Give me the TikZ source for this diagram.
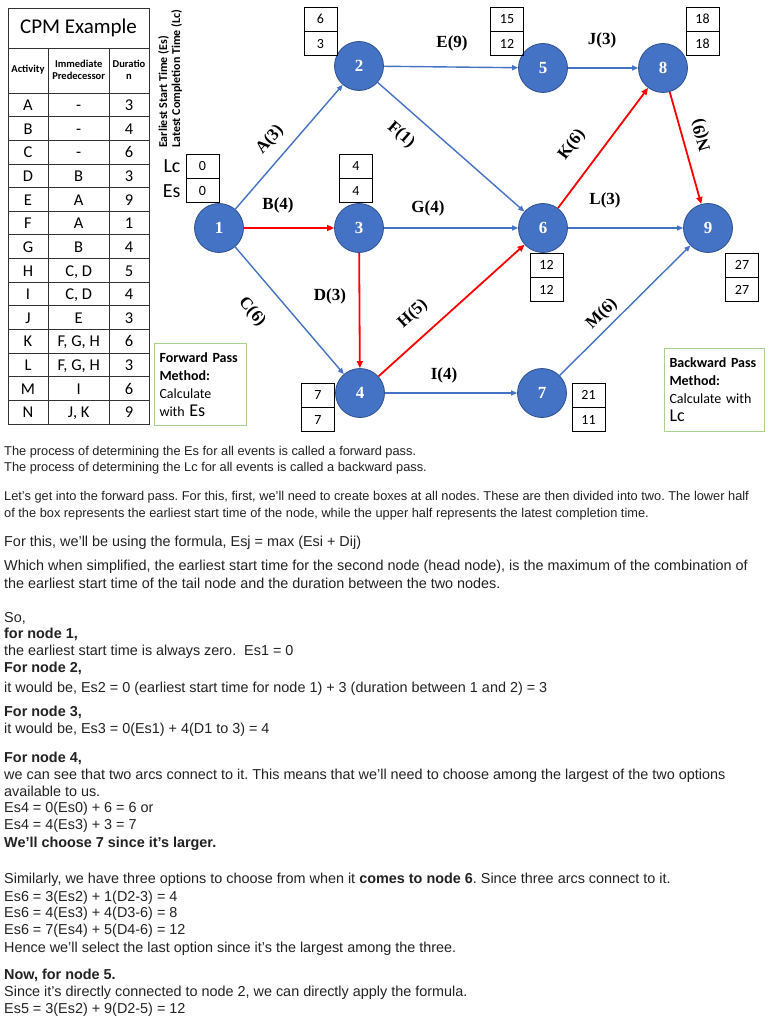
\documentclass[tikz,border=0pt]{standalone}
\usepackage{fontspec}
\setmainfont{Liberation Sans}
\newfontfamily\calibfont{Carlito}
\newfontfamily\timesfont{Liberation Serif}
\usepackage{xcolor}
\usepackage{tikz}
\usetikzlibrary{arrows.meta, positioning}

\definecolor{evblue}{HTML}{4472C4}
\definecolor{evline}{HTML}{2F528F}
\definecolor{critred}{HTML}{FF0000}
\definecolor{boxgreen}{HTML}{A9D18E}
\definecolor{bodytext}{HTML}{222222}
\frenchspacing

\begin{document}
\begin{tikzpicture}[
    x=1pt, y=-1pt,
    event/.style={circle, fill=evblue, draw=evline, line width=0.8pt, minimum size=49pt, inner sep=0pt, text=white, font=\timesfont\bfseries\fontsize{17}{17}\selectfont},
    timebox/.style={rectangle, draw=black, line width=0.8pt, minimum width=33pt, minimum height=24pt, inner sep=0pt, font=\calibfont\fontsize{14}{14}\selectfont},
    arc/.style={-{Triangle[length=6pt, width=5pt]}, draw=evblue, line width=1.4pt},
    crit/.style={-{Triangle[length=7pt, width=6pt]}, draw=critred, line width=1.8pt},
    lbl/.style={font=\timesfont\bfseries\fontsize{17}{17}\selectfont, inner sep=0pt},
    note/.style={rectangle, draw=boxgreen, line width=1pt, anchor=north west, align=left, inner sep=5pt, font=\calibfont\fontsize{14}{18}\selectfont},
    cell/.style={anchor=base, font=\calibfont\fontsize{16.5}{16.5}\selectfont, inner sep=0pt},
    head/.style={font=\calibfont\bfseries\fontsize{10.5}{12.5}\selectfont, align=center, inner sep=0pt},
    txt/.style={anchor=base west, inner sep=0pt, text=bodytext, font=\fontsize{14.4}{17}\selectfont},
    small/.style={anchor=base west, inner sep=0pt, text=bodytext, font=\fontsize{12.8}{14}\selectfont}
]
\path[use as bounding box, fill=white] (0,0) rectangle (768,1024);

% ---- Activity table ----
\draw[line width=0.8pt, black!80] (8,8) rectangle (149,424);
\draw[line width=0.8pt, black!80] (8,48) -- (149,48);
\draw[line width=0.8pt, black!80] (8,93) -- (149,93);
\foreach \i in {1,...,13}
    \draw[line width=0.8pt, black!80] (8,{93+\i*23.64}) -- (149,{93+\i*23.64});
\draw[line width=0.8pt, black!80] (48.5,48) -- (48.5,424);
\draw[line width=0.8pt, black!80] (109,48) -- (109,424);

\node[font=\calibfont\fontsize{21}{21}\selectfont] (title) at (78.5,28) {CPM Example};
\node[head] (hact) at (28,70) {Activity};
\node[head] (hpre) at (78.7,70) {Immediate\\Predecessor};
\node[head] (hdur) at (129,70) {Duratio\\n};

\foreach \act/\pre/\dur [count=\i] in {A/-/3, B/-/4, C/-/6, D/B/3, E/A/9, F/A/1, G/B/4, H/{C, D}/5, I/{C, D}/4, J/E/3, K/{F, G, H}/6, L/{F, G, H}/3, M/I/6, N/{J, K}/9} {
    \node[cell] (act\i) at (28,{86.9+\i*23.64}) {\act};
    \node[cell] (pre\i) at (78.7,{86.9+\i*23.64}) {\pre};
    \node[cell] (dur\i) at (129,{86.9+\i*23.64}) {\dur};
}

% ---- Axis legend ----
\node[rotate=90, anchor=north west, align=left, inner sep=0pt, font=\calibfont\bfseries\fontsize{12}{13}\selectfont] (legend) at (158,148) {Earliest Start Time (Es)\\Latest Completion Time (Lc)};

% ---- Events ----
\node[event] (n1) at (219,228) {1};
\node[event] (n2) at (359,66) {2};
\node[event] (n3) at (359,228) {3};
\node[event] (n4) at (360,393) {4};
\node[event] (n5) at (543,68) {5};
\node[event] (n6) at (543,228) {6};
\node[event] (n7) at (542,393) {7};
\node[event] (n8) at (663,68) {8};
\node[event] (n9) at (708,228) {9};

% ---- Time boxes (Lc on top, Es below) ----
\node[timebox] (lc1) at (202.5,166) {0};
\node[timebox, below=0pt of lc1] (es1) {0};
\node[timebox] (lc2) at (320.5,19) {6};
\node[timebox, below=0pt of lc2] (es2) {3};
\node[timebox] (lc3) at (356,166) {4};
\node[timebox, below=0pt of lc3] (es3) {4};
\node[timebox] (lc4) at (318,395) {7};
\node[timebox, below=0pt of lc4] (es4) {7};
\node[timebox] (lc5) at (507,19) {15};
\node[timebox, below=0pt of lc5] (es5) {12};
\node[timebox] (lc6) at (546.5,265) {12};
\node[timebox, below=0pt of lc6] (es6) {12};
\node[timebox] (lc7) at (588.5,395) {21};
\node[timebox, below=0pt of lc7] (es7) {11};
\node[timebox] (lc8) at (702.5,19) {18};
\node[timebox, below=0pt of lc8] (es8) {18};
\node[timebox] (lc9) at (742,265) {27};
\node[timebox, below=0pt of lc9] (es9) {27};

\node[font=\calibfont\fontsize{20}{20}\selectfont, inner sep=0pt, left=5pt of lc1] (lclbl) {Lc};
\node[font=\calibfont\fontsize{20}{20}\selectfont, inner sep=0pt, left=5pt of es1] (eslbl) {Es};

% ---- Activities ----
\draw[arc] (n1) -- (n2);
\draw[crit] (n1) -- (n3);
\draw[arc] (n1) -- (n4);
\draw[crit] (n3) -- (n4);
\draw[arc] (n2) -- (n5);
\draw[arc] (n2) -- (n6);
\draw[arc] (n3) -- (n6);
\draw[crit] (n4) -- (n6);
\draw[arc] (n4) -- (n7);
\draw[arc] (n5) -- (n8);
\draw[crit] (n6) -- (n8);
\draw[arc] (n6) -- (n9);
\draw[arc] (n7) -- (n9);
\draw[crit] (n8) -- (n9);

\node[lbl, rotate=49] (la) at (270,140) {A(3)};
\node[lbl] (lb) at (278,205) {B(4)};
\node[lbl, rotate=-49] (lcc) at (252,312) {C(6)};
\node[lbl] (ld) at (330,296) {D(3)};
\node[lbl] (le) at (452,43) {E(9)};
\node[lbl, rotate=-41] (lf) at (401,135) {F(1)};
\node[lbl] (lg) at (428,208) {G(4)};
\node[lbl, rotate=42] (lh) at (413,314) {H(5)};
\node[lbl] (li) at (444,375) {I(4)};
\node[lbl] (lj) at (602,40) {J(3)};
\node[lbl, rotate=53] (lk) at (572,145) {K(6)};
\node[lbl] (ll) at (605,200) {L(3)};
\node[lbl, rotate=45] (lm) at (602,314) {M(6)};
\node[lbl, rotate=106] (ln) at (702,135) {N(9)};

% ---- Method notes ----
\node[note, minimum width=92pt, minimum height=82pt, text width=82pt] (fwd) at (154,343) {\textbf{Forward Pass}\\\textbf{Method:}\\Calculate\\with {\fontsize{18}{18}\selectfont Es}};
\node[note, minimum width=100pt, minimum height=83pt, text width=90pt] (bwd) at (664,348) {\textbf{Backward Pass}\\\textbf{Method:}\\Calculate with\\{\fontsize{18}{18}\selectfont Lc}};

% ---- Explanation text ----
\node[small] (t1) at (4,455) {The process of determining the Es for all events is called a forward pass.};
\node[small] (t2) at (4,471) {The process of determining the Lc for all events is called a backward pass.};
\node[small] (t3) at (4,500) {Let’s get into the forward pass. For this, first, we’ll need to create boxes at all nodes. These are then divided into two. The lower half};
\node[small] (t4) at (4,517) {of the box represents the earliest start time of the node, while the upper half represents the latest completion time.};
\node[txt] (t5) at (4,546) {For this, we’ll be using the formula, Esj = max (Esi + Dij)};
\node[txt] (t6) at (4,570) {Which when simplified, the earliest start time for the second node (head node), is the maximum of the combination of};
\node[txt] (t7) at (4,588) {the earliest start time of the tail node and the duration between the two nodes.};
\node[txt] (t8) at (4,622) {So,};
\node[txt, font=\bfseries\fontsize{14.4}{17}\selectfont] (t9) at (4,638) {for node 1,};
\node[txt] (t10) at (4,655) {the earliest start time is always zero.\ \ Es1 = 0};
\node[txt, font=\bfseries\fontsize{14.4}{17}\selectfont] (t11) at (4,672) {For node 2,};
\node[txt] (t12) at (4,692) {it would be, Es2 = 0 (earliest start time for node 1) + 3 (duration between 1 and 2) = 3};
\node[txt, font=\bfseries\fontsize{14.4}{17}\selectfont] (t13) at (4,716) {For node 3,};
\node[txt] (t14) at (4,733) {it would be, Es3 = 0(Es1) + 4(D1 to 3) = 4};
\node[txt, font=\bfseries\fontsize{14.4}{17}\selectfont] (t15) at (4,762) {For node 4,};
\node[txt] (t16) at (4,779) {we can see that two arcs connect to it. This means that we’ll need to choose among the largest of the two options};
\node[txt] (t17) at (4,796) {available to us.};
\node[txt] (t18) at (4,812) {Es4 = 0(Es0) + 6 = 6 or};
\node[txt] (t19) at (4,829) {Es4 = 4(Es3) + 3 = 7};
\node[txt, font=\bfseries\fontsize{14.4}{17}\selectfont] (t20) at (4,847) {We’ll choose 7 since it’s larger.};
\node[txt] (t21) at (4,883) {Similarly, we have three options to choose from when it \textbf{comes to node 6}. Since three arcs connect to it.};
\node[txt] (t22) at (4,901) {Es6 = 3(Es2) + 1(D2-3) = 4};
\node[txt] (t23) at (4,917) {Es6 = 4(Es3) + 4(D3-6) = 8};
\node[txt] (t24) at (4,934) {Es6 = 7(Es4) + 5(D4-6) = 12};
\node[txt] (t25) at (4,952) {Hence we’ll select the last option since it’s the largest among the three.};
\node[txt, font=\bfseries\fontsize{14.4}{17}\selectfont] (t26) at (4,979) {Now, for node 5.};
\node[txt] (t27) at (4,996) {Since it’s directly connected to node 2, we can directly apply the formula.};
\node[txt] (t28) at (4,1013) {Es5 = 3(Es2) + 9(D2-5) = 12};

\end{tikzpicture}
\end{document}
